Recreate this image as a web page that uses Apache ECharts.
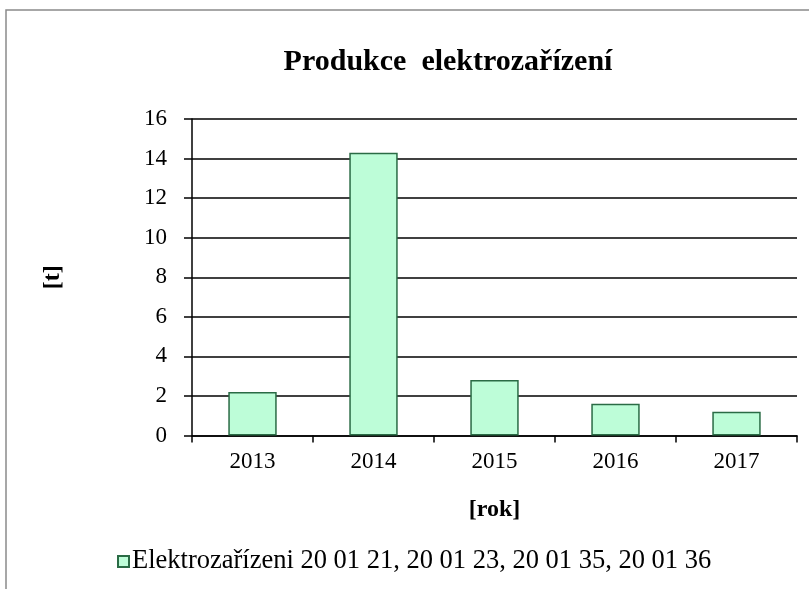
<!DOCTYPE html>
<html>
<head>
<meta charset="utf-8">
<script src="https://cdn.jsdelivr.net/npm/echarts@6/dist/echarts.min.js"></script>
<style>
    html, body { margin: 0; padding: 0; background: #fff; }
    #chart { width: 809px; height: 589px; }
</style>
</head>
<body>
<div id="chart"></div>
<script>
// 年份
const years = ['2013', '2014', '2015', '2016', '2017'];
// 产量 [t]
const production = [2.2, 14.3, 2.8, 1.6, 1.2];
// 纵轴刻度
const yTicks = [0, 2, 4, 6, 8, 10, 12, 14, 16];

const seriesName = 'Elektrozařízeni 20 01 21, 20 01 23, 20 01 35, 20 01 36';
const serif = '"Liberation Serif", "Times New Roman", serif';

const chart = echarts.init(document.getElementById('chart'));

chart.setOption({
    backgroundColor: '#fff',
    animation: false,
    // 外框
    graphic: [{
        type: 'rect',
        shape: { x: 6, y: 10, width: 900, height: 700 },
        style: { fill: 'none', stroke: '#8a8a8a', lineWidth: 1.5 },
        silent: true
    }],
    title: {
        text: 'Produkce  elektrozařízení',
        left: 443,
        top: 42,
        textAlign: 'center',
        textStyle: { fontFamily: serif, fontWeight: 'bold', fontSize: 30, color: '#000' }
    },
    legend: {
        left: 112,
        top: 543,
        icon: 'rect',
        itemWidth: 11,
        itemHeight: 11,
        itemGap: 4,
        textStyle: { fontFamily: serif, fontSize: 26.5, color: '#000', padding: [0, 0, 0, -2] },
        data: [seriesName]
    },
    grid: {
        left: 192,
        right: 12,
        top: 119,
        bottom: 153.5
    },
    xAxis: {
        type: 'category',
        data: years,
        name: '[rok]',
        nameLocation: 'middle',
        nameGap: 62,
        nameTextStyle: { fontFamily: serif, fontWeight: 'bold', fontSize: 24, color: '#000' },
        axisLine: { lineStyle: { color: '#000', width: 1.5 } },
        axisTick: { show: true, length: 7, lineStyle: { color: '#000', width: 1.5 } },
        axisLabel: { fontFamily: serif, fontSize: 23, color: '#000', margin: 15 }
    },
    yAxis: {
        type: 'value',
        min: yTicks[0],
        max: yTicks[yTicks.length - 1],
        interval: 2,
        name: '[t]',
        nameLocation: 'middle',
        nameGap: 127,
        nameTextStyle: { fontFamily: serif, fontWeight: 'bold', fontSize: 24, color: '#000' },
        axisLine: { show: true, lineStyle: { color: '#000', width: 1.5 } },
        axisTick: { show: true, length: 8, lineStyle: { color: '#000', width: 1.5 } },
        axisLabel: { fontFamily: serif, fontSize: 23, color: '#000', margin: 25 },
        splitLine: { show: true, lineStyle: { color: '#000', width: 1.5 } }
    },
    series: [{
        name: seriesName,
        type: 'bar',
        data: production,
        barCategoryGap: '60%',
        itemStyle: { color: '#BDFDD8', borderColor: '#2A6B45', borderWidth: 1.5 }
    }]
});
</script>
</body>
</html>
